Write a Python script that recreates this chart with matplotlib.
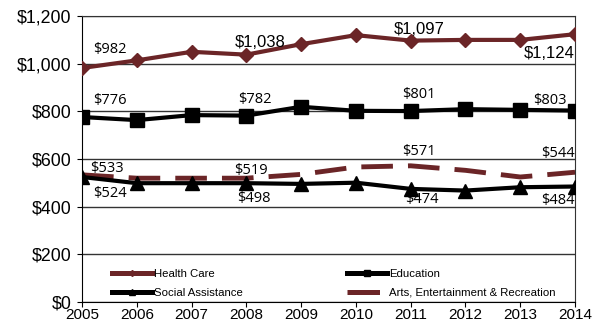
import matplotlib.pyplot as plt
from matplotlib.ticker import FuncFormatter

years = [2005, 2006, 2007, 2008, 2009, 2010, 2011, 2012, 2013, 2014]
health_care = [982, 1014, 1050, 1038, 1082, 1120, 1097, 1100, 1100, 1124]
education = [776, 763, 784, 782, 819, 802, 801, 809, 806, 803]
social_assistance = [524, 498, 498, 498, 495, 500, 474, 467, 481, 484]
arts = [533, 519, 519, 519, 535, 566, 571, 552, 524, 544]

maroon = '#6b2527'

fig = plt.figure(figsize=(5.99, 3.22), dpi=100)
ax = fig.add_axes([0.137, 0.063, 0.823, 0.887])

ax.plot(years, health_care, color=maroon, lw=3, marker='D', ms=7.5, label='Health Care', zorder=4)
ax.plot(years, social_assistance, color='black', lw=3, marker='^', ms=10, label='Social Assistance', zorder=3)
ax.plot(years, education, color='black', lw=3, marker='s', ms=10.5, label='Education', zorder=4)
ax.plot(years, arts, color=maroon, lw=3.5, dashes=(6.5, 3.1), label='Arts, Entertainment & Recreation', zorder=2)

ax.set_xlim(2005, 2014)
ax.set_ylim(0, 1200)
ax.set_xticks(years)
ax.set_yticks(range(0, 1201, 200))
ax.yaxis.set_major_formatter(FuncFormatter(lambda v, p: '${:,.0f}'.format(v)))
ax.grid(axis='y', color='#333333', lw=1)
ax.set_axisbelow(True)
for s in ax.spines.values():
    s.set_color('#333333')
ax.spines['left'].set_color('black')
ax.spines['bottom'].set_color('black')
ax.tick_params(axis='x', labelsize=11, direction='out', length=3.5, color='black', pad=1)
ax.tick_params(axis='y', labelsize=12.8, direction='out', length=3.5, color='black', pad=4)
for t in ax.get_xticklabels() + ax.get_yticklabels():
    t.set_family('Liberation Sans')

# value labels: (series, year index, dx, dy in pixels, font, size)
sans = ('Open Sans', 10.5)
arial = ('Liberation Sans', 12)
notes = [
    (health_care, 0, 28, 18, sans),
    (health_care, 3, 14, 12, arial),
    (health_care, 6, 8, 11.5, arial),
    (health_care, 9, -26, -19, arial),
    (education, 0, 28, 17, sans),
    (education, 3, 8, 16.5, sans),
    (education, 6, 8, 17, sans),
    (education, 9, -25, 10.5, sans),
    (arts, 0, 25, 6, sans),
    (arts, 3, 5, 8, sans),
    (arts, 6, 8, 14, sans),
    (arts, 9, -17, 19, sans),
    (social_assistance, 0, 28, -17, sans),
    (social_assistance, 3, 7, -15, sans),
    (social_assistance, 6, 11, -11, sans),
    (social_assistance, 9, -17, -13.5, sans),
]
for series, i, dx, dy, (fam, size) in notes:
    ax.annotate('${:,}'.format(series[i]), (years[i], series[i]), xytext=(dx, dy),
                textcoords='offset pixels', ha='center', va='center',
                fontsize=size, family=fam, zorder=6)

leg = ax.legend(ncol=2, loc='upper left', bbox_to_anchor=(0.061, 0.113), frameon=False,
                borderpad=0, borderaxespad=0,
                prop={'family': 'Liberation Sans', 'size': 8.2}, handlelength=3.5,
                handletextpad=0.15, columnspacing=9.2, labelspacing=0.72, markerscale=0.4)
for h in leg.legend_handles:
    h.set_linewidth(3.6)

fig.savefig('out.png', dpi=100)
